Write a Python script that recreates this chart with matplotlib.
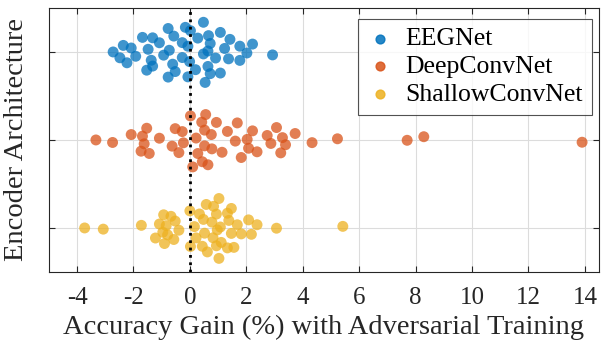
import matplotlib.pyplot as plt
import numpy as np

# accuracy gain (%) per subject
eegnet = [-2.72, -2.48, -2.36, -2.23, -2.08, -1.92, -1.68, -1.53, -1.48, -1.37,
          -1.32, -1.32, -1.08, -0.93, -0.77, -0.77, -0.73, -0.61, -0.57, -0.52,
          -0.27, -0.27, -0.16, -0.07, -0.07, -0.01, 0.02, 0.20, 0.28, 0.48,
          0.64, 0.48, 0.66, 0.64, 0.54, 0.72, 0.72, 0.91, 1.08, 1.08,
          1.23, 1.37, 1.42, 1.77, 1.77, 2.02, 2.22, 2.93]
deepconvnet = [-3.33, -2.74, -2.08, -1.73, -1.44, -1.53, -1.62, -1.68, -1.08, -0.63,
               -0.52, -0.39, -0.27, -0.23, 0.02, 0.10, 0.22, 0.28, 0.42, 0.56,
               0.52, 0.64, 0.44, 0.52, 0.76, 0.78, 0.94, 1.14, 1.33, 1.61,
               1.68, 1.82, 2.03, 2.08, 2.22, 2.38, 2.74, 2.87, 3.07, 3.22,
               3.28, 3.39, 3.73, 4.33, 5.23, 7.70, 8.29, 13.90]
shallowconvnet = [-3.73, -3.07, -1.72, -1.22, -1.08, -0.93, -0.67, -0.52, -0.84, -0.57,
                  -0.39, -0.96, -0.90, -0.79, 0.00, 0.02, 0.16, 0.22, 0.34, 0.48,
                  0.62, 0.52, 0.82, 0.94, 0.94, 1.33, 0.78, 1.11, 1.08, 1.03,
                  0.58, 0.84, 0.97, 1.03, 0.44, 1.33, 1.47, 1.38, 1.68, 1.47,
                  1.56, 1.82, 2.08, 2.18, 2.38, 3.07, 5.42]

names = ['EEGNet', 'DeepConvNet', 'ShallowConvNet']
series = [eegnet, deepconvnet, shallowconvnet]
colors = ['#0072BD', '#D95319', '#EDB120']
plt.rcParams['font.family'] = ['Liberation Serif', 'DejaVu Serif']
plt.rcParams['axes.unicode_minus'] = False


def swarm_offsets(x, width=0.72, bw=0.45):
    # density-scaled jitter, deterministic van der Corput sequence instead of random
    x = np.asarray(x)
    dens = np.exp(-0.5 * ((x[:, None] - x[None, :]) / bw) ** 2).sum(axis=1)
    dens = dens / dens.max()
    n = len(x)
    u = np.zeros(n)
    for i in range(n):
        k, f, v = i + 1, 0.5, 0.0
        while k:
            v += f * (k & 1)
            k >>= 1
            f /= 2
        u[i] = 2 * v - 1
    order = np.argsort(x)
    off = np.zeros(n)
    off[order] = u * dens[order] * width / 2
    return off


fig = plt.figure(figsize=(6.1, 3.46), dpi=100)
ax = fig.add_axes([0.080, 0.214, 0.902, 0.763])

for i, (name, vals, c) in enumerate(zip(names, series, colors)):
    ypos = 3 - i
    off = swarm_offsets(vals)
    ax.scatter(vals, ypos + off, s=62, color=c, alpha=0.75, edgecolors='none',
               zorder=3)
    ax.scatter([], [], s=40, color=c, alpha=0.85, label=name)

ax.axvline(0, color='black', linestyle=':', linewidth=2, zorder=4)

ax.set_xlim(-5, 14.5)
ax.set_ylim(0.5, 3.5)
ax.set_xticks(np.arange(-4, 15, 2))
ax.set_yticks([1, 2, 3])
ax.set_yticklabels([])
ax.grid(True, color='#dcdcdc', linewidth=0.8)
ax.set_axisbelow(True)
ax.tick_params(direction='in', top=True, right=True, length=4, pad=11,
               labelsize=18, color='#262626', labelcolor='#262626')
for sp in ax.spines.values():
    sp.set_color('#262626')
    sp.set_linewidth(0.8)

ax.set_xlabel('Accuracy Gain (%) with Adversarial Training', fontsize=20.5,
              color='#262626', labelpad=4)
ax.set_ylabel('Encoder Architecture', fontsize=20.5, color='#262626', labelpad=3)

leg = ax.legend(loc='upper right', fontsize=18.5, frameon=True, fancybox=False,
                edgecolor='#262626', handletextpad=0.5, borderpad=0.35,
                labelspacing=0.18, handlelength=1.0, borderaxespad=0,
                bbox_to_anchor=(0.987, 0.96))
leg.get_frame().set_linewidth(0.8)

fig.savefig('out.png', dpi=100)
